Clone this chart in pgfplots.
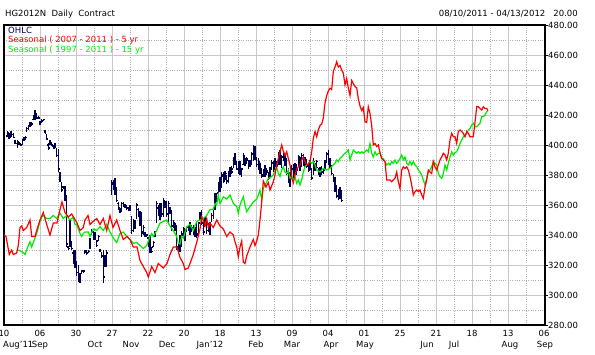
\documentclass[border=0pt]{standalone}
\usepackage{pgfplots}
\pgfplotsset{compat=1.18}
\usepackage{pgfplotstable}
\usepackage{fontspec}
\setmainfont{DejaVu Sans}
\definecolor{ohlc}{RGB}{0,0,80}
\definecolor{sred}{RGB}{255,0,0}
\definecolor{sgreen}{RGB}{0,235,0}
\definecolor{gridc}{RGB}{200,200,200}
\definecolor{gridd}{RGB}{175,175,175}

\pgfplotstableread{
x h l o c
7.3 409 405.5 406 408
9 408 404 407 405
11 409 405 405 408
13.3 408 404.7 407 405
15 403 400.5 403 401
17.3 403 398 401 402
19 402 400 401 401
20.7 401 399 400 400
22.3 404 400 400 403
24 405 402.5 403 404
25.5 406 403 404 405
26.7 412 408.5 409 411
28.3 413.5 410 411 413
30 415.5 412 413 414
31.7 415 412.5 413 414
33.3 420 416.7 417 419
35 423 416.7 419 421
36.7 421 417 420 418
38.3 419 417.5 418 418
40 416 413 415 414
41.7 417 415 415 416
43.3 417.5 416 416 417
45 410 408 409 408
46.7 407 403 406 404
48.3 401 396.7 400 398
50 403 400 401 402
51.7 402 399 401 400
53.3 400 397.5 399 398
55 401 398 399 400
56.7 398 392 397 393
58.3 397 382 393 384
60 382 375.5 381 377
61.7 375.5 369 375 370
63.3 373 371 372 371
65 373 363 371 365
66.7 367 332 363 334
68.3 333 330 332 331
70 350 332 333 348
71.7 336 330 335 331
73.3 330 321 328 323
75 330 318 322 327
76.7 323 313 322 315
78.3 320 309 315 312
80 315 308 312 310
81.7 317 314 315 316
83.3 317 315 316 316
85 330 328 328 329
86.7 330 327 329 328
88.3 330 328 328 329
90 338 331 331 337
91.7 344 340 341 343
93.3 343 337 342 338
95 342 337 338 340
96.7 337 332 336 333
98.3 340 336 336 339
100 331 329 330 330
101.7 329 325 328 326
103.3 330 308 326 312
105 327 318.7 320 326
106.7 330 319 325 328
111.7 377 367 368 375
113.3 377 370 374 372
115 378 367 372 369
116.7 372 362 369 363
118.3 362 357 361 358
120 358 354.5 357 356
121.7 362 355.5 356 361
123.3 362 359 361 360
125 361 358 360 359
126.7 360 357 359 358
128.3 359 356 358 357
130 360 356 357 359
131.7 353 341 352 343
133.3 351 342 343 349
135 350 344 348 346
136.7 361.5 351 352 360
138.3 358 352 357 353
140 356 346 354 347
141.7 355.5 339 348 341
143.3 347 340 342 345
145 342 339 341 340
146.7 341 339 340 340
148.3 339 332 338 333
150 340 328 333 331
151.7 332 328 330 329
153.3 336 332 332 335
155 343 339 339 342
156.7 363 348 349 361
158.3 360 353 358 355
160 361.5 350 355 359
161.7 361.5 352 358 354
163.3 364.5 352 354 363
165 363 358 361 359
166.7 363 352 359 354
168.3 363 348 354 361
170 359 354 358 355
171.7 357 343 355 346
173.3 350 345 346 348
175 348 343 347 344
176.7 347 330 344 332
178.3 334.5 328 332 330
180 340 329 330 338
181.7 343 332 337 341
183.3 345.5 338 340 344
185 344 336 343 338
186.7 346 342 343 345
188.3 347 343 345 346
190 349 340 346 342
191.7 347 342 343 345
193.3 347 340 345 341
195 345.5 339 341 344
196.7 348 338 343 340
198.3 349 341 341 348
200 355.5 350 350 354
201.7 357 347 354 348
203.3 350 340 348 342
205 352 346 346 350
206.7 351 341 349 343
208.3 348 342 343 346
210 349 340 346 347
211.7 354.5 349 349 353
213.3 358 351 353 357
215 368 357 357 366
216.7 368 362 365 364
218.3 375.5 367.8 368 374
220 379 369 374 371
221.7 382 372 372 380
223.3 382 374.4 379 376
225 383 376.7 377 382
226.7 380 374 381 376
228.3 383 374.7 376 382
230 385.5 379 381 384
231.7 386 381 383 382
233.3 392 384.4 384 390
235 394.5 386.7 390 388
236.7 389 383.3 388 384
238.3 389 381 384 387
240 389 380 386 382
241.7 384.7 379 382 384
243.3 394.5 386.7 387 393
245 391 386 392 388
246.7 392 387.8 388 391
248.3 390 384 390 386
250 390 385.5 386 389
251.7 395.5 386.7 389 394
253.3 400 389 394 397
255 399 390 397 391
256.7 392 385.5 391 387
258.3 391 383.3 387 389
260 387.8 381 388 382
261.7 384.4 377.8 382 379
263.3 384 379 380 383
265 386.7 379 383 381
266.7 385 380 381 383
268.3 382 376.7 382 378
270 385.5 379 379 384
271.7 390 383.3 384 388
273.3 389 382 388 384
275 391 385.5 385 390
276.7 389 384 389 386
278.3 395.5 386.7 387 394
280 396.7 386.7 394 388
281.7 393.3 384.4 388 392
283.3 395.5 389 392 390
285 394 386 390 387
286.7 391 380 387 381
288.3 384.4 374.4 381 376
290 382 372 376 380
291.7 386.7 377.8 380 384
293.3 387 378 384 380
295 388 381 381 386
296.7 387 380 386 383
298.3 393.3 385.5 384 392
300 392 383 391 385
301.7 394.5 385.5 386 393
303.3 394 386 393 388
305 392 385.5 388 390
306.7 390 385 390 386
308.3 386.7 382 386 383
310 390 383.3 383 389
311.7 384.4 376.7 384 378
313.3 391 380 378 389
315 388 383 389 385
316.7 390 385.5 385 389
318.3 385 380 385 381
320 385.5 379 381 384
321.7 386 380 384 382
323.3 384.4 381 382 383
325 390 383.3 383 389
326.7 395.5 387.8 389 394
328.3 396.7 386.7 394 388
330 391 384.4 388 386
331.7 386.7 380 386 381
333.3 381 375.5 381 376
335 379 369 376 371
336.7 373.3 364.4 371 366
338.3 371 363.3 366 368
340 372 364 368 365
341.7 370 362 366 363
}\ohlcdata

\pgfplotstableread{
x v
4 340
6 339
9.3 327
11.7 330
13.3 327
16.7 328
18.3 333
20 345
21.7 346
23.3 343
26.7 345
30 350
31.7 339
35 339
36.7 343
40 350
43.3 355
46.7 347
50 340
53.3 348
57 348
60 357
62 362
63.3 359
65 355
68.3 352
71.7 354
77 348
80 343
83.3 345
85 350
88 353
90 347
93 349
96.7 351
100 347
103.3 351
106.7 343
110 353
113 345
116.7 350
120 343
123.3 337
127 339
130 337
133.3 332
137 332
140 323
143.3 319
146.7 315
148.3 312
151.7 319
155 315
158.3 321
163.3 318
167 321
170 327
173.3 332
177 332
180 325
183.3 321
185 317
188.3 318
190 321
193.3 327
196.7 335
200 344
201.7 352
203.3 350
205 346
206.7 351
208.3 345
210 348
213.3 345
216.7 350
220 346
223.3 344
226.7 339
230 342
233.3 340
235 335.5
236.7 332
238.3 325.5
240 332
241.7 336
243.3 322
245 321
246.7 326
250 332
253.3 337
255 333
256.7 336
258.3 340
260 350
261.7 362
263.3 376
266 372
268.3 375
270 370
273.3 375.5
275 380
276.7 386.7
278.3 391
280 395.5
281.7 400
283.3 396
285 393
286.7 395.5
288.3 391
290 386.7
291.7 378
293.3 374.7
295 380
296.7 384
300 386.7
301.7 390
303.3 392
305 389
306.7 387
308.3 387
310 389
311.7 395.5
313.3 404.4
315 409
316.7 405.5
318.3 410
320 413
321.7 414
323.3 418
325 428
326.7 433
328.3 436
330 437.8
331.7 437
333.3 449
335 452
336.7 455.5
338.3 452
340 453
341.7 450
343.3 448
345 440
346.7 444.4
348.3 438
350 433
351.7 443
353.3 441
355 439
356.7 438
358.3 431
360 426
361.7 423
363.3 425
365 415.5
366.7 415
368.3 425.5
370 421
371.7 413
373.3 400
375 401
376.7 399
378.3 400
380 395
381.7 391
383.3 390
385 389
386.7 376.7
388.3 376.7
390 376.7
391.7 375.5
393.3 376.7
395 377.8
396.7 382
398.3 375.5
400 371
401.7 383.3
403.3 385.5
405 384.4
406.7 385.5
408.3 383.3
410 378.9
411.7 373.3
413.3 366.7
415 368.9
416.7 370
418.3 368.9
420 370
421.7 366.7
423.3 364.4
425 372
426.7 376.7
428.3 383.3
430 382
431.7 381
433.3 389
435 385.5
436.7 383.3
438.3 386.7
440 390
441.7 392
443.3 394.5
445 393.3
446.7 390
448.3 394.5
450 403.3
451.7 407.8
453.3 405.5
455 405.5
456.7 401
458.3 409
460 410
461.7 409
463.3 407.8
465 405.5
466.7 409
468.3 407.8
470 405.5
471.7 405.5
473.3 405.5
475 415
476.7 425.5
478.3 425.5
480 424.4
481.7 423.3
483.3 425.5
485 424.4
486.7 424.4
488 423
}\redfive

\pgfplotstableread{
x v
18.3 330
21.7 329
25 327
28.3 333
30 335.5
31.7 332
33.3 335
35 338
36.7 341
40 349
41.7 352
43.3 353
46.7 351
50 351
53.3 353
56.7 351
60 354.5
63.3 351
66.7 353
70 350
71.7 351
73.3 352
75 347
76.7 347
80 341
81.7 339
83.3 341
85 342
88.3 342
90 339
93.3 344
96.7 343
100 345.5
103.3 343
106.7 347
110 342
113.3 338
116.7 335
120 341
123.3 342
126.7 339
130 337
133.3 334.5
136.7 335
140 333
143.3 331
146.7 333
150 339
151.7 341
153.3 339
156.7 343
160 348
163.3 349
166.7 350
170 346
173.3 343
176.7 339
178.3 334.5
180 334
181.7 339
183.3 338
186.7 345.5
190 347
193.3 343
196.7 349
200 350
203.3 351
206.7 353
210 357
213.3 357
215 361
216.7 360
218.3 366.7
220 361
221.7 363
223.3 365.5
226.7 364
230 366.7
233.3 361
236.7 359
238.3 354.5
240 360
243.3 365.5
245 360
246.7 355.5
250 359
253.3 362
256.7 364
258.3 366.7
260 370
261.7 363.3
263.3 371
265 373.3
266.7 375.5
268.3 377.8
270 378
273.3 380
275 383
276.7 385.5
278.3 381
280 379
281.7 383.3
283.3 385.5
285 382
286.7 381
288.3 383.3
290 377.8
291.7 378.9
293.3 376.7
295 378.9
296.7 374.4
298.3 376.7
300 373.3
301.7 376.7
303.3 382
305 385.5
306.7 386.7
308.3 387.8
310 389
311.7 387.8
313.3 389
315 386.7
316.7 383.3
320 382
323.3 384.4
326.7 383.3
330 384.4
333.3 386.7
335 387.8
336.7 390
338.3 388.9
340 391
341.7 392
343.3 393.3
345 394.5
346.7 395.5
348.3 396.7
350 390
351.7 393.3
353.3 396.7
355 395.5
356.7 394.5
358.3 395.5
360 394.5
361.7 395.5
363.3 394.5
365 395.5
366.7 396.7
368.3 395.5
370 401
371.7 394.5
373.3 392
375 395.5
376.7 393.3
378.3 394.5
380 394.5
381.7 391
383.3 391
385 388.9
386.7 386.7
388.3 387.8
390 386.7
391.7 389
393.3 387.8
395 390
396.7 387.8
398.3 388.9
400 391
401.7 393.3
403.3 390
405 392
406.7 387.8
408.3 386.7
410 388.9
411.7 386.7
413.3 389
415 386.7
416.7 385.5
418.3 383.3
420 382
421.7 380
423.3 376.7
425 373.3
426.7 377.8
428.3 382
430 383.3
431.7 385.5
433.3 388.9
435 387.8
436.7 386.7
438.3 381
440 378.9
441.7 377.8
443.3 381
445 386.7
446.7 383.3
448.3 387.8
450 392
451.7 395.5
453.3 393.3
455 395
456.7 395.5
458.3 397.8
460 401
461.7 403.3
463.3 405.5
465 406.7
466.7 407.8
468.3 410
470 411
471.7 413.3
473.3 414.5
475 412.2
476.7 412.2
478.3 413.3
480 414.5
481.7 418.9
483.3 418.9
485 420
486.7 422.2
488 423
}\greenfifteen

\begin{document}
\begin{tikzpicture}[font=\fontsize{8.5bp}{10bp}\selectfont]
\begin{axis}[
  scale only axis, width=541bp, height=300bp,
  xmin=4, xmax=545, ymin=280, ymax=480,
  xtick={4,40,...,544},
  xticklabels={10,06,30,27,22,20,18,13,09,04,01,25,21,18,13,06},
  minor x tick num=1,
  ytick={280,300,...,480}, minor y tick num=1,
  grid=both,
  major grid style={gridc, line width=0.7bp},
  minor grid style={gridd, line width=0.5bp, dash pattern=on 0.7bp off 1.6bp},
  axis line style={black, line width=1.2bp},
  ytick pos=right, yticklabel pos=right,
  tick align=outside, major tick length=2.5bp, minor tick length=0bp,
  xtick style={draw=none},
  ytick style={black, line width=0.8bp},
  xticklabel style={anchor=north, inner sep=0pt, yshift=-2.5bp},
  yticklabel style={anchor=west, inner sep=0pt, xshift=0.5bp,
     /pgf/number format/.cd, fixed, fixed zerofill, precision=2, 1000 sep={}, assume math mode=true},
  clip=true,
]
\addplot[ohlc, line width=1.1bp, quiver={u=0, v={\thisrow{h}-\thisrow{l}}}] table[x=x, y=l] {\ohlcdata};
\addplot[ohlc, line width=1.1bp, quiver={u=-1.2, v=0}] table[x=x, y=o] {\ohlcdata};
\addplot[ohlc, line width=1.1bp, quiver={u=1.2, v=0}] table[x=x, y=c] {\ohlcdata};
\addplot[sgreen, line width=1.2bp] table[x=x, y=v] {\greenfifteen};
\addplot[sred, line width=1.2bp] table[x=x, y=v] {\redfive};

\coordinate (bl) at (rel axis cs:0,0);
\coordinate (tr) at (rel axis cs:1,1);
\coordinate (tl) at (rel axis cs:0,1);
\end{axis}
\foreach \xx/\lab in {36/Sep,91/Oct,127/Nov,163/Dec,206/Jan'12,252/Feb,288/Mar,327/Apr,361/May,423/Jun,450/Jul,506/Aug,541/Sep}{
  \node[anchor=base, inner sep=0pt] at ([xshift=\xx bp, yshift=-22bp]bl) {\lab};
}
\node[anchor=base west, inner sep=0pt] at ([xshift=-1bp, yshift=-22bp]bl) {Aug'11};
\node[anchor=base west, inner sep=0pt] at ([xshift=1bp,yshift=8.5bp]tl) {HG2012N\ \ Daily\ \ Contract};
\node[anchor=base east, inner sep=0pt] at ([xshift=33bp,yshift=8.5bp]tr) {08/10/2011 - 04/13/2012\ \ \ 20.00};
\node[anchor=base west, inner sep=0pt, text=ohlc] at ([xshift=4bp,yshift=-8.5bp]tl) {OHLC};
\node[anchor=base west, inner sep=0pt, text=sred] at ([xshift=4bp,yshift=-18bp]tl) {Seasonal ( 2007 - 2011 ) - 5 yr};
\node[anchor=base west, inner sep=0pt, text=sgreen] at ([xshift=4bp,yshift=-27.5bp]tl) {Seasonal ( 1997 - 2011 ) - 15 yr};
\pgfresetboundingbox
\path[use as bounding box] ([shift={(-4bp,-30bp)}]bl) rectangle ([shift={(50bp,25bp)}]tr);
\end{tikzpicture}
\end{document}
